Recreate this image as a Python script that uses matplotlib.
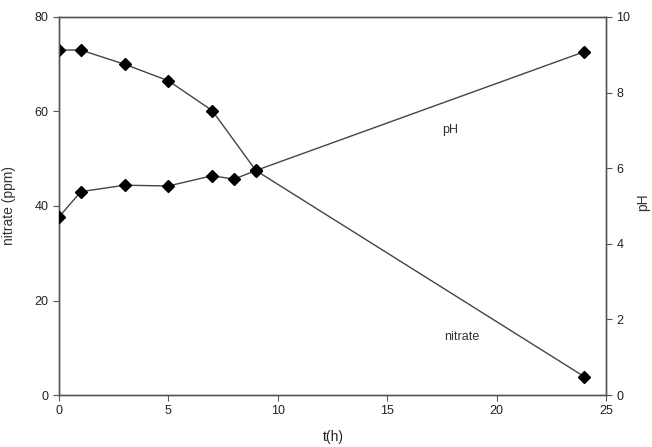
import matplotlib.pyplot as plt
import numpy as np

plt.rcParams['font.family'] = ['Liberation Sans', 'DejaVu Sans']

# data
t_nitrate = [0, 1, 3, 5, 7, 9, 24]
nitrate = [73.0, 73.0, 70.0, 66.5, 60.2, 47.5, 3.9]
t_ph = [0, 1, 3, 5, 7, 8, 9, 24]
ph = [4.71, 5.38, 5.55, 5.53, 5.80, 5.71, 5.94, 9.08]

W, H = 652, 447
fig = plt.figure(figsize=(W / 100, H / 100), dpi=100)
ax = fig.add_axes([59 / W, 1 - 395 / H, (606 - 59) / W, (395 - 17) / H])
ax2 = ax.twinx()

lc = '#444444'
ax.plot(t_nitrate, nitrate, color=lc, lw=1.0, marker='D', ms=6,
        mfc='black', mec='black', zorder=3)
ax2.plot(t_ph, ph, color=lc, lw=1.0, marker='D', ms=6,
         mfc='black', mec='black', zorder=3)

ax.set_xlim(0, 25)
ax.set_ylim(0, 80)
ax2.set_ylim(0, 10)
ax.set_xticks([0, 5, 10, 15, 20, 25])
ax.set_yticks([0, 20, 40, 60, 80])
ax2.set_yticks([0, 2, 4, 6, 8, 10])

for a in (ax, ax2):
    for s in a.spines.values():
        s.set_color('#555555')
        s.set_linewidth(1.0)
    a.tick_params(direction='out', length=4, width=0.8, colors='#555555',
                  labelcolor='#222222', labelsize=9)

ax.text(17.9, 56.1, 'pH', fontsize=9, ha='center', va='center', color='#333333')
ax.text(18.4, 12.3, 'nitrate', fontsize=9, ha='center', va='center', color='#333333')

fig.text(9 / W, 1 - 205 / H, 'nitrate (ppm)', rotation=90, ha='center',
         va='center', fontsize=10, color='#333333')
fig.text(643 / W, 1 - 202 / H, 'pH', rotation=90, ha='center',
         va='center', fontsize=10, color='#333333')
fig.text(333 / W, 1 - 437 / H, 't(h)', ha='center', va='center',
         fontsize=10, color='#222222')

fig.savefig('out.png', dpi=100)
